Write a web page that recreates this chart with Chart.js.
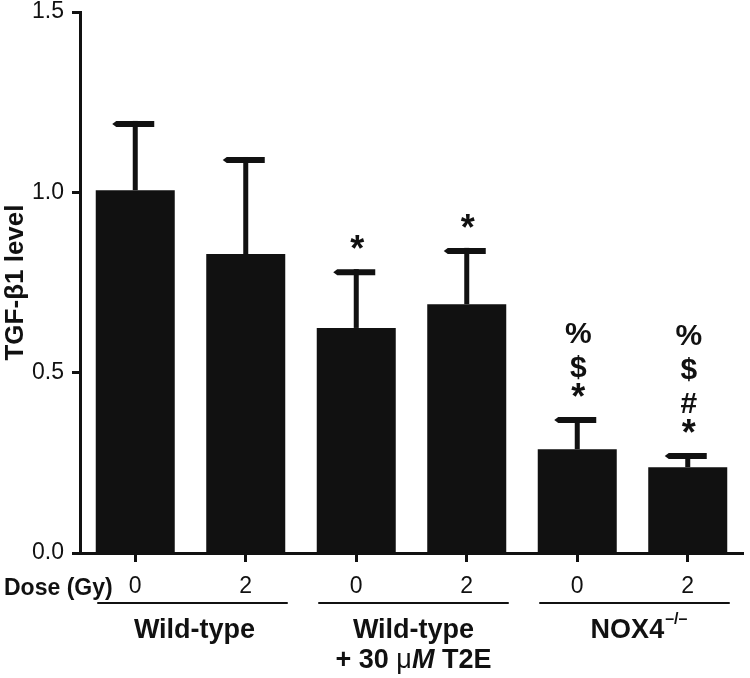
<!DOCTYPE html>
<html>
<head>
<meta charset="utf-8">
<script src="https://cdn.jsdelivr.net/npm/chart.js@4.4.1/dist/chart.umd.min.js"></script>
<style>
  html, body { margin: 0; padding: 0; background: #fff; }
  #wrap { width: 750px; height: 678px; position: relative; }
</style>
</head>
<body>
<div id="wrap"><canvas id="chart" width="750" height="678"></canvas></div>
<script>
// data
const doses = ["0", "2", "0", "2", "0", "2"];
const groups = ["Wild-type", "Wild-type + 30 \u03bcM T2E", "NOX4-/-"];
const meanLevel = [1.006, 0.829, 0.624, 0.690, 0.288, 0.238];
const sdLevel = [0.192, 0.269, 0.163, 0.156, 0.089, 0.039];
const marks = [[], [], ["*"], ["*"], ["*", "$", "%"], ["*", "#", "$", "%"]];
const yTicks = [0, 0.5, 1.0, 1.5];

const FONT = "'Liberation Sans', Arial, Helvetica, sans-serif";
const INK = "#111";

// error bars, significance marks and group labels
const extrasPlugin = {
  id: "extras",
  afterDatasetsDraw(chart) {
    const ctx = chart.ctx;
    const meta = chart.getDatasetMeta(0);
    const y = chart.scales.y;
    ctx.save();
    ctx.fillStyle = INK;
    ctx.strokeStyle = INK;
    meta.data.forEach((bar, i) => {
      const top = y.getPixelForValue(meanLevel[i] + sdLevel[i]);
      const x = bar.x;
      // stem
      ctx.fillRect(x - 2.5, top, 5, bar.y - top);
      // cap, left end tapered
      ctx.beginPath();
      ctx.moveTo(x - 23, top + 3);
      ctx.lineTo(x - 19, top);
      ctx.lineTo(x + 19, top);
      ctx.lineTo(x + 19, top + 6);
      ctx.lineTo(x - 19, top + 6);
      ctx.closePath();
      ctx.fill();
      // significance marks, stacked upwards
      ctx.textAlign = "center";
      ctx.textBaseline = "alphabetic";
      let base = top - 6;
      marks[i].forEach(m => {
        if (m === "*") {
          ctx.font = "bold 36px " + FONT;
          ctx.fillText(m, x + 1, base - 2);
        } else {
          ctx.font = "bold 30px " + FONT;
          ctx.fillText(m, x + 1, base);
        }
        base -= 34;
      });
    });
    ctx.restore();
  },
  afterDraw(chart) {
    const ctx = chart.ctx;
    const x = chart.scales.x;
    ctx.save();
    ctx.fillStyle = INK;
    ctx.strokeStyle = INK;
    ctx.textBaseline = "alphabetic";
    ctx.font = "bold 23px " + FONT;
    ctx.textAlign = "left";
    ctx.fillText("Dose (Gy)", 4, 595);

    groups.forEach((g, gi) => {
      const xl = x.getPixelForValue(gi * 2) - 38;
      const xr = x.getPixelForValue(gi * 2 + 1) + 42;
      const mid = (xl + xr) / 2;
      ctx.lineWidth = 2;
      ctx.beginPath();
      ctx.moveTo(xl, 603);
      ctx.lineTo(xr, 603);
      ctx.stroke();

      ctx.font = "bold 27px " + FONT;
      if (gi === 0) {
        ctx.textAlign = "center";
        ctx.fillText(g, mid + 2, 638);
      } else if (gi === 1) {
        ctx.textAlign = "center";
        ctx.fillText("Wild-type", mid, 638);
        // "+ 30 μM T2E" in mixed styles
        const parts = [
          ["+ 30 ", "bold 27px " + FONT],
          ["\u03bc", "27px " + FONT],
          ["M", "italic bold 27px " + FONT],
          [" T2E", "bold 27px " + FONT]
        ];
        let w = 0;
        parts.forEach(p => { ctx.font = p[1]; w += ctx.measureText(p[0]).width; });
        let cx = mid - w / 2;
        ctx.textAlign = "left";
        parts.forEach(p => {
          ctx.font = p[1];
          ctx.fillText(p[0], cx, 668);
          cx += ctx.measureText(p[0]).width;
        });
      } else {
        const base = "NOX4";
        const sup = "\u2013/\u2013";
        ctx.font = "bold 27px " + FONT;
        const wb = ctx.measureText(base).width;
        ctx.font = "bold 16px " + FONT;
        const ws = ctx.measureText(sup).width;
        let cx = mid - (wb + ws) / 2 + 4;
        ctx.textAlign = "left";
        ctx.font = "bold 27px " + FONT;
        ctx.fillText(base, cx, 638);
        ctx.font = "bold 16px " + FONT;
        ctx.fillText(sup, cx + wb + 1, 624);
      }
    });
    ctx.restore();
  }
};

new Chart(document.getElementById("chart"), {
  type: "bar",
  data: {
    labels: doses,
    datasets: [{
      label: "TGF-\u03b21 level",
      data: meanLevel,
      backgroundColor: INK,
      borderWidth: 0,
      barPercentage: 0.715,
      categoryPercentage: 1.0
    }]
  },
  options: {
    responsive: false,
    animation: false,
    devicePixelRatio: 1,
    layout: { padding: { top: 12, right: 7, left: 0, bottom: 0 } },
    plugins: {
      legend: { display: false },
      tooltip: { enabled: false }
    },
    scales: {
      x: {
        afterFit: s => { s.height = 125; },
        grid: {
          offset: false,
          drawOnChartArea: false,
          drawTicks: true,
          tickLength: 9,
          tickWidth: 3,
          tickColor: INK
        },
        border: { display: true, color: INK, width: 3 },
        ticks: {
          color: INK,
          font: { family: FONT, size: 23 },
          padding: 11,
          maxRotation: 0
        }
      },
      y: {
        min: 0,
        max: 1.5,
        afterFit: s => { s.width = 80; s.paddingTop = 0; s.paddingBottom = 0; },
        afterBuildTicks: s => { s.ticks = yTicks.map(v => ({ value: v })); },
        grid: {
          drawOnChartArea: false,
          drawTicks: true,
          tickLength: 8,
          tickWidth: 3,
          tickColor: INK
        },
        border: { display: true, color: INK, width: 3 },
        ticks: {
          color: INK,
          font: { family: FONT, size: 23 },
          padding: 8,
          callback: v => Number(v).toFixed(1)
        },
        title: {
          display: true,
          text: "TGF-\u03b21 level",
          color: INK,
          font: { family: FONT, size: 26, weight: "bold" },
          padding: { top: 0, bottom: 0 }
        }
      }
    }
  },
  plugins: [extrasPlugin]
});
</script>
</body>
</html>
